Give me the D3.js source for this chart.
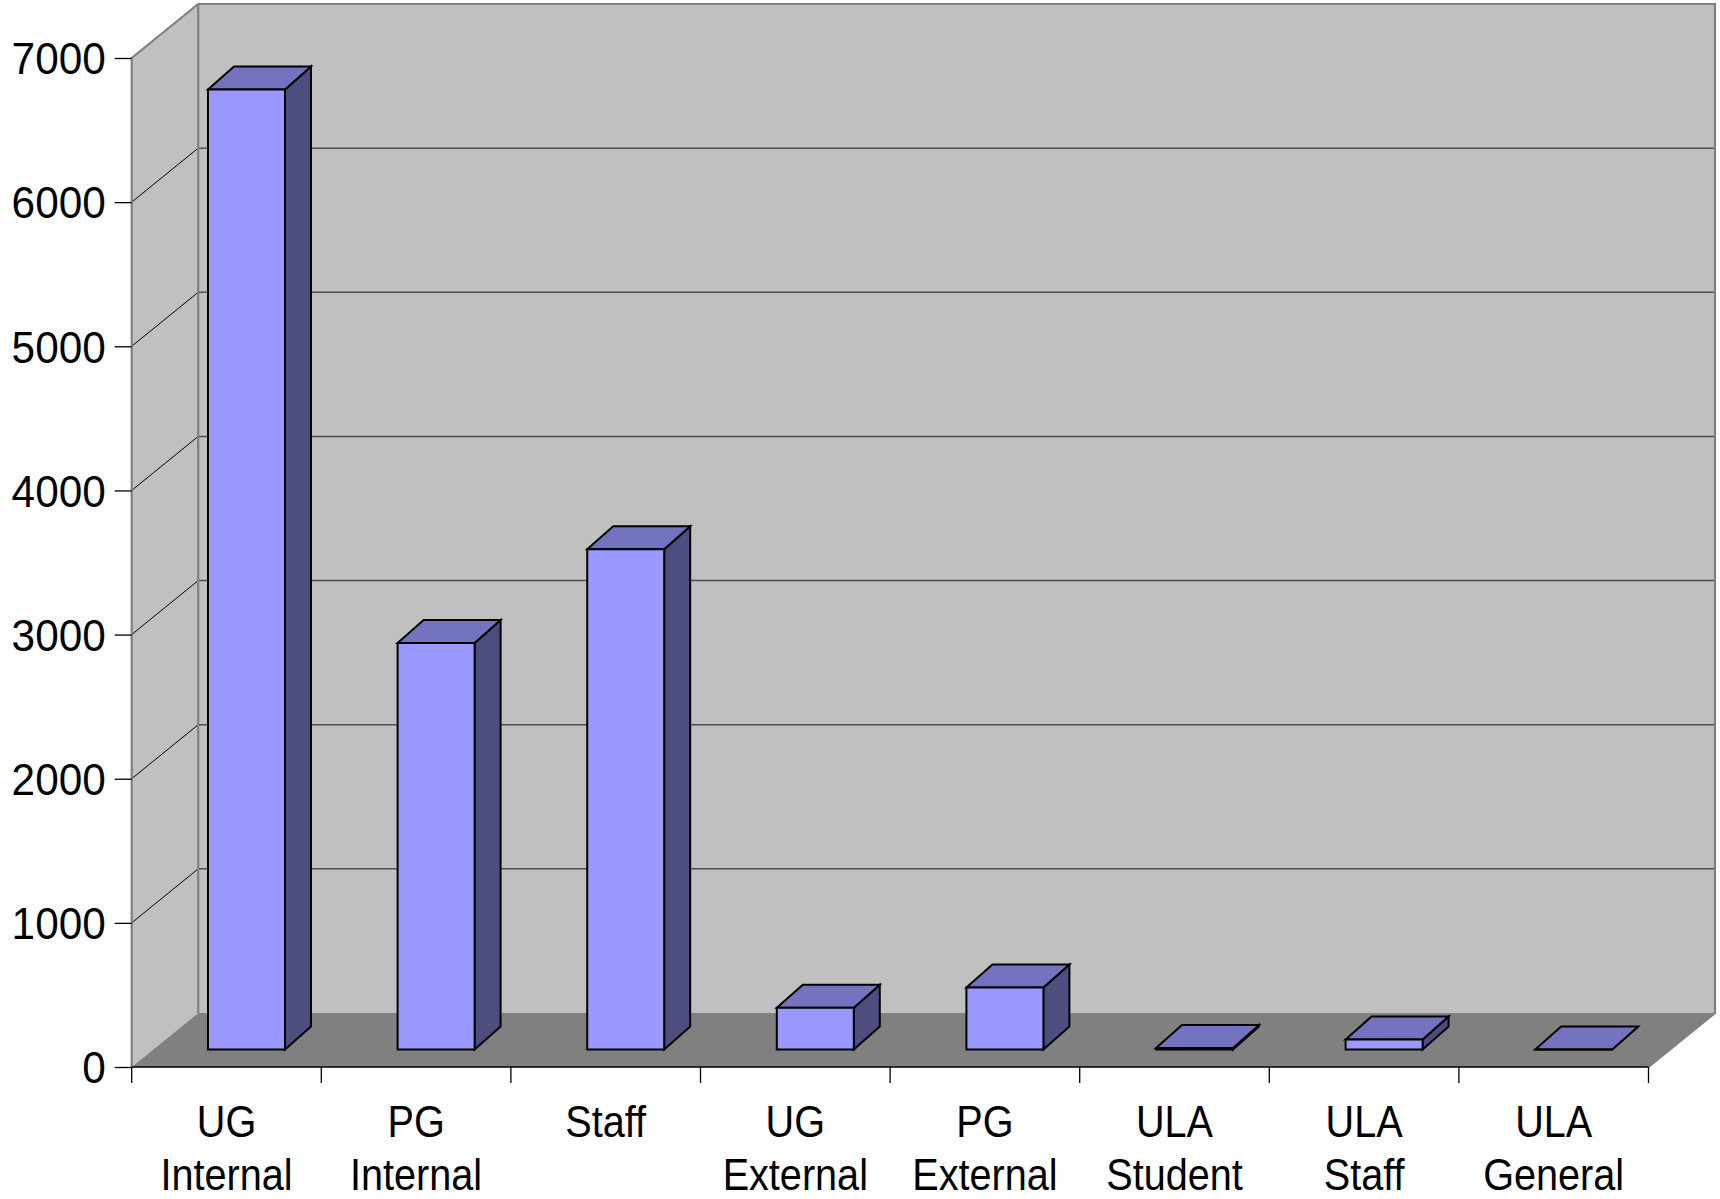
<!DOCTYPE html>
<html>
<head>
<meta charset="utf-8">
<script src="https://cdn.jsdelivr.net/npm/d3@7"></script>
<style>
  html, body { margin: 0; padding: 0; background: #ffffff; }
  svg { display: block; }
  text { font-family: "Liberation Sans", Arial, sans-serif; fill: #000; }
</style>
</head>
<body>
<script>
// Library users by category
const categories = ["UG\nInternal", "PG\nInternal", "Staff", "UG\nExternal", "PG\nExternal", "ULA\nStudent", "ULA\nStaff", "ULA\nGeneral"];
const values = [6660, 2820, 3470, 290, 430, 10, 70, 0];
const yTicks = [0, 1000, 2000, 3000, 4000, 5000, 6000, 7000];

const W = 1720, H = 1199;

// Oblique projection of the chart box: the back plane sits up and right of the front plane
const DEPTH = { dx: 66.5, dy: -54 };
const BAR_FRONT = { dx: 20, dy: -17.5 };   // bars stand part way into the floor
const BAR_DEPTH = { dx: 26, dy: -23 };

const COLORS = {
  wall: "#c0c0c0",
  floor: "#808080",
  wallEdge: "#808080",
  grid: "#4d4d4d",
  face: "#9999ff",
  top: "#7373bf",
  side: "#4d4d80"
};

const svg = d3.select("body").append("svg")
  .attr("width", W).attr("height", H);

const x = d3.scaleBand()
  .domain(categories)
  .range([131.7, 1648.5])
  .paddingInner(0.594)
  .paddingOuter(0.297);

const y = d3.scaleLinear().domain([0, 7000]).range([1067, 58]);

const [x0, x1] = x.range();
const yMax = y(yTicks[yTicks.length - 1]);
const y0 = y(0);
const pts = a => a.map(p => p.join(",")).join(" ");

// Walls and floor
const box = svg.append("g");
box.append("rect")
  .attr("x", x0 + DEPTH.dx).attr("y", yMax + DEPTH.dy)
  .attr("width", x1 - x0).attr("height", y0 - yMax)
  .attr("fill", COLORS.wall);
box.append("polygon")
  .attr("points", pts([[x0, yMax], [x0 + DEPTH.dx, yMax + DEPTH.dy], [x0 + DEPTH.dx, y0 + DEPTH.dy], [x0, y0]]))
  .attr("fill", COLORS.wall);
box.append("polygon")
  .attr("points", pts([[x0, y0], [x1, y0], [x1 + DEPTH.dx, y0 + DEPTH.dy], [x0 + DEPTH.dx, y0 + DEPTH.dy]]))
  .attr("fill", COLORS.floor);

// Gridlines on the back wall and across the side wall
const gridVals = yTicks.filter(v => v > 0 && v < 7000);
box.selectAll("line.grid-back").data(gridVals).join("line")
  .attr("class", "grid-back")
  .attr("x1", x0 + DEPTH.dx).attr("x2", x1 + DEPTH.dx)
  .attr("y1", d => y(d) + DEPTH.dy).attr("y2", d => y(d) + DEPTH.dy)
  .attr("stroke", COLORS.grid).attr("stroke-width", 1.5);
box.selectAll("line.grid-side").data(gridVals).join("line")
  .attr("class", "grid-side")
  .attr("x1", x0).attr("x2", x0 + DEPTH.dx)
  .attr("y1", d => y(d)).attr("y2", d => y(d) + DEPTH.dy)
  .attr("stroke", "#000").attr("stroke-width", 1);

// Box edges
const edge = box.append("g")
  .attr("fill", "none").attr("stroke", COLORS.wallEdge).attr("stroke-width", 2.2);
edge.append("polyline")
  .attr("points", pts([[x0, y0], [x0, yMax], [x0 + DEPTH.dx, yMax + DEPTH.dy], [x1 + DEPTH.dx, yMax + DEPTH.dy], [x1 + DEPTH.dx, y0 + DEPTH.dy], [x1, y0]]));
edge.append("line")
  .attr("x1", x0 + DEPTH.dx).attr("x2", x0 + DEPTH.dx)
  .attr("y1", yMax + DEPTH.dy).attr("y2", y0 + DEPTH.dy);

// Bars as boxes: front face, top and right side
const bars = svg.append("g").selectAll("g.bar")
  .data(categories.map((c, i) => ({ c, v: values[i] })))
  .join("g").attr("class", "bar")
  .attr("stroke", "#000").attr("stroke-width", 2).attr("stroke-linejoin", "miter");

bars.each(function (d) {
  const g = d3.select(this);
  const L = x(d.c) + BAR_FRONT.dx;
  const R = L + x.bandwidth();
  const B = y(0) + BAR_FRONT.dy;
  const T = y(d.v) + BAR_FRONT.dy;
  const { dx, dy } = BAR_DEPTH;
  g.append("polygon").attr("fill", COLORS.side)
    .attr("points", pts([[R, B], [R + dx, B + dy], [R + dx, T + dy], [R, T]]));
  g.append("polygon").attr("fill", COLORS.top)
    .attr("points", pts([[L, T], [R, T], [R + dx, T + dy], [L + dx, T + dy]]));
  g.append("polygon").attr("fill", COLORS.face)
    .attr("points", pts([[L, B], [R, B], [R, T], [L, T]]));
});

// Value axis
const yAxis = svg.append("g")
  .attr("transform", `translate(${x0},0)`)
  .call(d3.axisLeft(y).tickValues(yTicks).tickSize(17).tickPadding(9).tickFormat(d3.format("d")));
yAxis.select(".domain").remove();
yAxis.selectAll(".tick line").attr("stroke", "#000").attr("stroke-width", 1.3);
yAxis.selectAll(".tick text")
  .attr("font-size", 45).attr("font-family", "Liberation Sans, Arial, sans-serif")
  .attr("dy", "0.35em").attr("class", "cond-y");

// Category axis: baseline and ticks at band edges
const xAxis = svg.append("g").attr("stroke", "#000");
xAxis.append("line")
  .attr("x1", x0).attr("x2", x1).attr("y1", y0).attr("y2", y0)
  .attr("stroke-width", 1.5);
const edges = categories.map(c => x(c) + x.bandwidth() / 2 - x.step() / 2)
  .concat([x(categories[categories.length - 1]) + x.bandwidth() / 2 + x.step() / 2]);
xAxis.selectAll("line.tick").data(edges).join("line")
  .attr("class", "tick")
  .attr("x1", d => d).attr("x2", d => d)
  .attr("y1", y0).attr("y2", y0 + 16)
  .attr("stroke-width", 1.3);

// Category labels, one text per line
const labelG = svg.append("g");
categories.forEach(c => {
  const cx = x(c) + x.bandwidth() / 2;
  c.split("\n").forEach((line, k) => {
    labelG.append("text")
      .attr("class", "cond-x")
      .attr("x", cx).attr("y", 1137 + k * 53)
      .attr("text-anchor", "middle")
      .attr("font-size", 44)
      .text(line);
  });
});

// Slightly narrow letterforms
function condense(sel, k) {
  sel.each(function () {
    const w = this.getComputedTextLength();
    d3.select(this).attr("textLength", w * k).attr("lengthAdjust", "spacingAndGlyphs");
  });
}
condense(svg.selectAll("text.cond-y"), 0.94);
condense(svg.selectAll("text.cond-x"), 0.9);
</script>
</body>
</html>
